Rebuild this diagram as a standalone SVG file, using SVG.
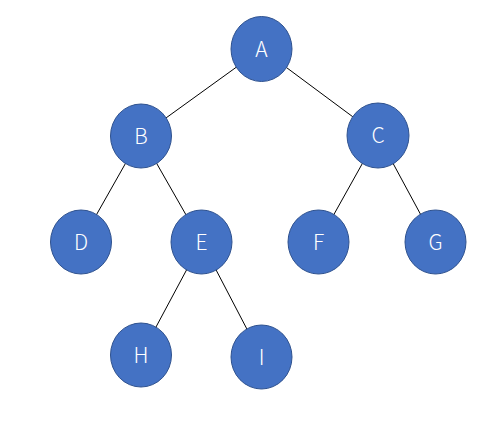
<svg xmlns="http://www.w3.org/2000/svg" width="492" height="424" viewBox="0 0 492 424">
<style>
.n ellipse{fill:#4472C4;stroke:#2F528F;stroke-width:1}
.n text{fill:#ffffff;font-family:"Noto Sans CJK SC","Noto Sans",sans-serif;font-size:21px;font-weight:300;text-anchor:middle}
.e line{stroke:#000;stroke-width:1}
</style>
<rect width="492" height="424" fill="#fff"/>
<g id="edges" class="e">
<line x1="261.5" y1="49" x2="141" y2="136"/>
<line x1="261.5" y1="49" x2="378" y2="135.5"/>
<line x1="141" y1="136" x2="81" y2="242"/>
<line x1="141" y1="136" x2="201.5" y2="242"/>
<line x1="378" y1="135.5" x2="318.5" y2="242"/>
<line x1="378" y1="135.5" x2="435.5" y2="242"/>
<line x1="201.5" y1="242" x2="141" y2="355"/>
<line x1="201.5" y1="242" x2="261.5" y2="357"/>
</g>
<g id="A" class="n"><ellipse cx="261.5" cy="49" rx="30.5" ry="32.5"/><text x="261.5" y="56.5">A</text></g>
<g id="B" class="n"><ellipse cx="141" cy="136" rx="30.5" ry="32"/><text x="141" y="143.5">B</text></g>
<g id="C" class="n"><ellipse cx="378" cy="135.5" rx="31" ry="32.5"/><text x="378" y="143">C</text></g>
<g id="D" class="n"><ellipse cx="81" cy="242" rx="30.5" ry="32"/><text x="81" y="249.5">D</text></g>
<g id="E" class="n"><ellipse cx="201.5" cy="242" rx="30.5" ry="32"/><text x="201.5" y="249.5">E</text></g>
<g id="F" class="n"><ellipse cx="318.5" cy="242" rx="30.5" ry="32"/><text x="318.5" y="249.5">F</text></g>
<g id="G" class="n"><ellipse cx="435.5" cy="242" rx="30.5" ry="32"/><text x="435.5" y="249.5">G</text></g>
<g id="H" class="n"><ellipse cx="141" cy="355" rx="30.5" ry="32"/><text x="141" y="362.5">H</text></g>
<g id="I" class="n"><ellipse cx="261.5" cy="357" rx="30.5" ry="32"/><text x="261.5" y="364.5">I</text></g>
</svg>
